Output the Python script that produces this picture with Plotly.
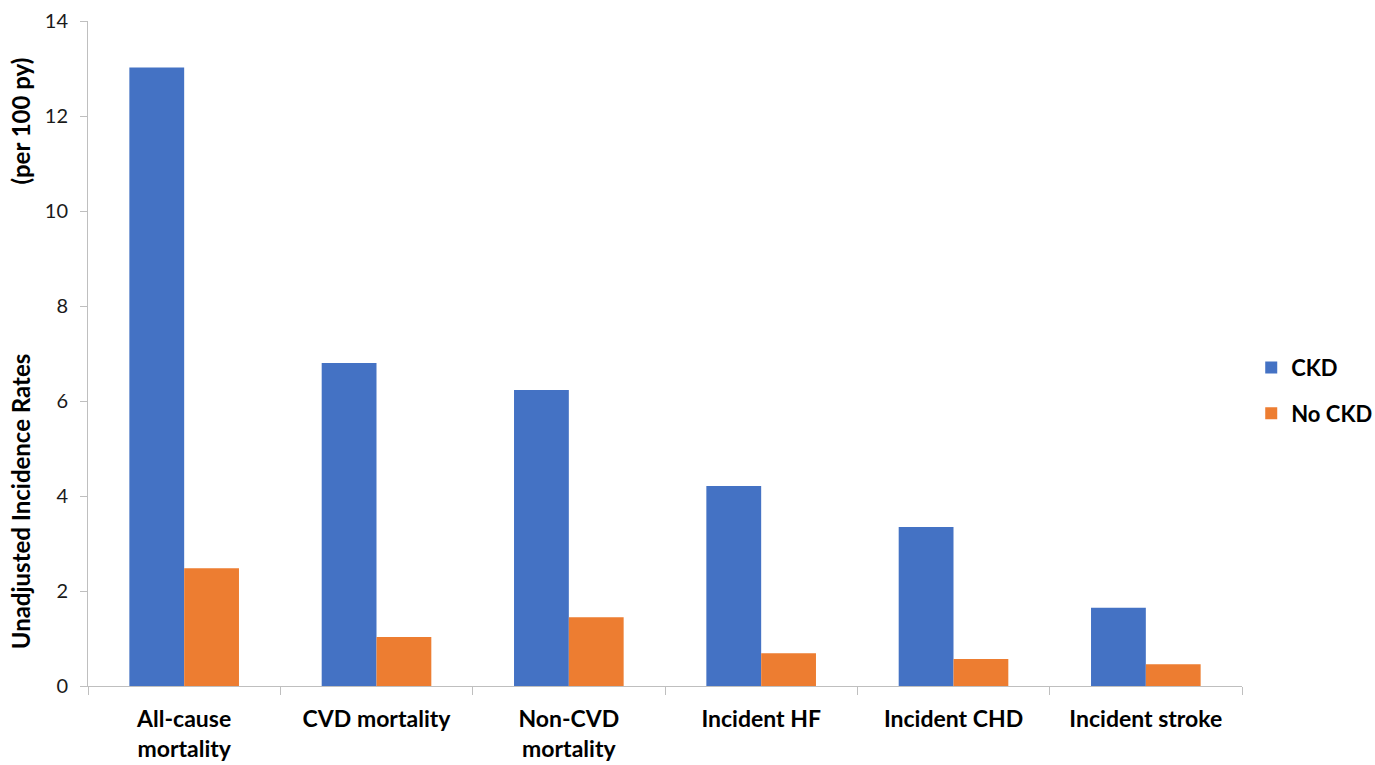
import plotly.graph_objects as go

categories = ["All-cause<br>mortality", "CVD mortality", "Non-CVD<br>mortality",
              "Incident HF", "Incident CHD", "Incident stroke"]
ckd = [13.02, 6.80, 6.23, 4.21, 3.35, 1.65]
no_ckd = [2.48, 1.03, 1.45, 0.69, 0.57, 0.46]
y_ticks = [0, 2, 4, 6, 8, 10, 12, 14]

FONT = "Lato"
AXIS_GREY = "#bfbfbf"

fig = go.Figure()
fig.add_trace(go.Bar(name="CKD", x=categories, y=ckd, marker_color="#4472c4",
                     marker_line_width=0, legendgroup="ckd"))
fig.add_trace(go.Bar(name="No CKD", x=categories, y=no_ckd, marker_color="#ed7d31",
                     marker_line_width=0, legendgroup="nockd"))

fig.update_layout(
    width=1375, height=765,
    margin=dict(l=88, r=133, t=21, b=79, autoexpand=False),
    paper_bgcolor="white", plot_bgcolor="white",
    barmode="group", bargap=0.43, bargroupgap=0,
    font=dict(family=FONT, color="#000000"),
    legend=dict(x=1.008, y=0.444, xanchor="left", yanchor="middle",
                font=dict(family=FONT, size=22, color="#000000", weight="bold"),
                tracegroupgap=14, itemwidth=30),
    showlegend=True,
)

fig.update_xaxes(
    showline=True, linecolor=AXIS_GREY, linewidth=1,
    ticks="outside", tickson="boundaries", ticklen=8, tickcolor=AXIS_GREY,
    tickfont=dict(family=FONT, size=23, color="#000000", weight="bold"),
    ticklabelstandoff=12,
    showgrid=False, zeroline=False,
)
fig.update_yaxes(
    range=[0, 14], tickvals=y_ticks,
    showline=True, linecolor=AXIS_GREY, linewidth=1,
    ticks="outside", ticklen=7, tickcolor=AXIS_GREY,
    tickfont=dict(family=FONT, size=20, color="#1a1a1a"),
    ticklabelstandoff=8,
    showgrid=False, zeroline=False,
    title=dict(text="Unadjusted Incidence Rates" + "\u00a0" * 29 + "(per 100 py)",
               font=dict(family=FONT, size=24, color="#000000", weight="bold"),
               standoff=7),
)

fig.write_html("out.html")
